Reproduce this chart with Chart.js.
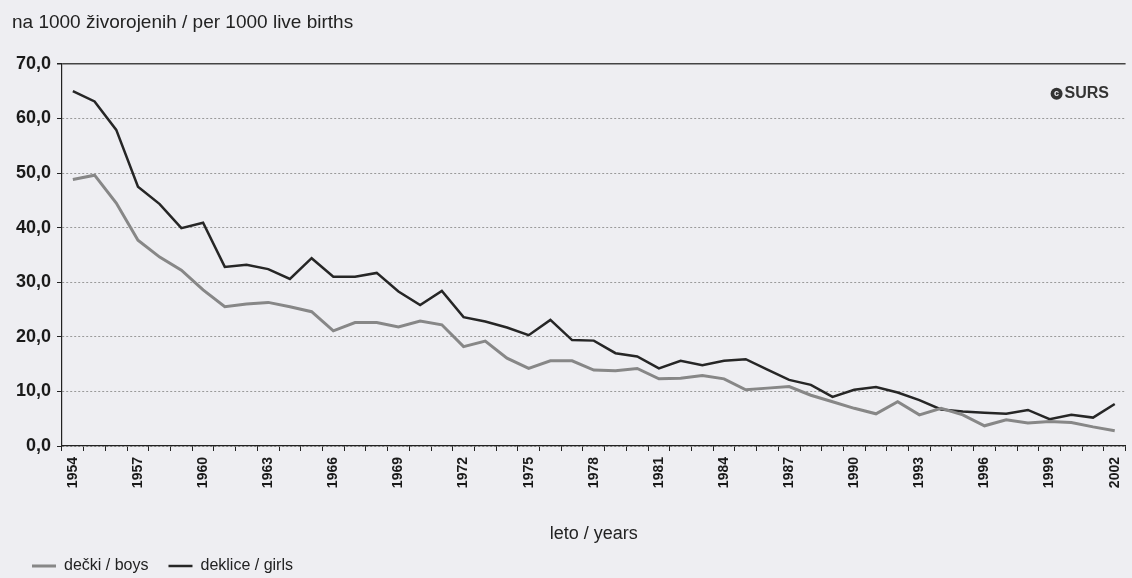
<!DOCTYPE html>
<html>
<head>
<meta charset="utf-8">
<title>Umrljivost dojenčkov</title>
<script src="https://cdn.jsdelivr.net/npm/chart.js@4.4.1/dist/chart.umd.min.js"></script>
<style>
  html, body { margin: 0; padding: 0; background: #eeeef2; }
  #wrap { width: 1132px; height: 578px; }
</style>
</head>
<body>
<div id="wrap"><canvas id="chart" width="1132" height="578"></canvas></div>
<script>
// ── data ──
const years = [
  1954, 1955, 1956, 1957, 1958, 1959, 1960, 1961, 1962, 1963,
  1964, 1965, 1966, 1967, 1968, 1969, 1970, 1971, 1972, 1973,
  1974, 1975, 1976, 1977, 1978, 1979, 1980, 1981, 1982, 1983,
  1984, 1985, 1986, 1987, 1988, 1989, 1990, 1991, 1992, 1993,
  1994, 1995, 1996, 1997, 1998, 1999, 2000, 2001, 2002
];
const labelledYears = [1954, 1957, 1960, 1963, 1966, 1969, 1972, 1975, 1978, 1981, 1984, 1987, 1990, 1993, 1996, 1999, 2002];

const boys = [
  48.8, 49.6, 44.5, 37.7, 34.6, 32.2, 28.6, 25.5, 26.0, 26.3,
  25.5, 24.6, 21.1, 22.6, 22.6, 21.8, 22.9, 22.2, 18.2, 19.2,
  16.1, 14.2, 15.6, 15.6, 13.9, 13.8, 14.2, 12.3, 12.4, 12.9,
  12.3, 10.3, 10.6, 10.9, 9.3, 8.1, 6.9, 5.9, 8.1, 5.7,
  6.9, 5.7, 3.7, 4.8, 4.2, 4.5, 4.3, 3.5, 2.8
];
const girls = [
  65.0, 63.1, 57.9, 47.5, 44.3, 39.9, 40.9, 32.8, 33.2, 32.4,
  30.6, 34.4, 31.0, 31.0, 31.7, 28.3, 25.8, 28.4, 23.6, 22.8,
  21.7, 20.3, 23.1, 19.4, 19.3, 17.0, 16.4, 14.2, 15.6, 14.8,
  15.6, 15.9, 14.0, 12.1, 11.2, 9.0, 10.3, 10.8, 9.8, 8.4,
  6.7, 6.3, 6.1, 5.9, 6.6, 4.9, 5.7, 5.2, 7.7
];

const yTicks = [0, 10, 20, 30, 40, 50, 60, 70];

const FONT = "'Liberation Sans', Arial, sans-serif";

// paper background
const paper = {
  id: "paper",
  beforeDraw(chart) {
    const { ctx, width, height } = chart;
    ctx.save();
    ctx.fillStyle = "#eeeef2";
    ctx.fillRect(0, 0, width, height);
    ctx.restore();
  }
};

// "© SURS" mark in the upper right corner
const surs = {
  id: "surs",
  afterDraw(chart) {
    const { ctx, chartArea } = chart;
    const cx = chartArea.right - 69;
    const cy = chartArea.top + 30;
    ctx.save();
    ctx.fillStyle = "#333";
    ctx.beginPath();
    ctx.arc(cx, cy, 6, 0, Math.PI * 2);
    ctx.fill();
    ctx.fillStyle = "#eeeef2";
    ctx.font = "bold 9px " + FONT;
    ctx.textAlign = "center";
    ctx.textBaseline = "middle";
    ctx.fillText("c", cx, cy);
    ctx.fillStyle = "#333";
    ctx.font = "bold 16px " + FONT;
    ctx.textAlign = "left";
    ctx.fillText("SURS", cx + 8, cy);
    ctx.restore();
  }
};

new Chart(document.getElementById("chart"), {
  type: "line",
  data: {
    labels: years,
    datasets: [
      {
        label: "dečki / boys",
        data: boys,
        borderColor: "#878787",
        borderWidth: 3,
        pointRadius: 0,
        tension: 0
      },
      {
        label: "deklice / girls",
        data: girls,
        borderColor: "#262626",
        borderWidth: 2.5,
        pointRadius: 0,
        tension: 0
      }
    ]
  },
  options: {
    responsive: false,
    animation: false,
    layout: { padding: { left: 12, right: 6, top: 0, bottom: 0 } },
    plugins: {
      title: {
        display: true,
        text: "na 1000 živorojenih / per 1000 live births",
        align: "start",
        color: "#222",
        font: { family: FONT, size: 19, weight: "normal" },
        padding: { top: 11, bottom: 30 }
      },
      legend: {
        position: "bottom",
        align: "start",
        maxHeight: 40,
        labels: {
          usePointStyle: true,
          pointStyle: "line",
          pointStyleWidth: 24,
          padding: 20,
          color: "#222",
          font: { family: FONT, size: 16 }
        }
      },
      tooltip: { enabled: false }
    },
    scales: {
      x: {
        type: "category",
        offset: true,
        afterFit: s => { s.height = 92; },
        grid: {
          display: true,
          offset: true,
          drawOnChartArea: false,
          tickLength: 5,
          tickColor: "#222"
        },
        border: { color: "#222", width: 1.2 },
        ticks: {
          autoSkip: false,
          minRotation: 90,
          maxRotation: 90,
          padding: 6,
          color: "#1a1a1a",
          font: { family: FONT, size: 14, weight: "bold", lineHeight: 0.8 },
          callback(value) {
            const y = this.getLabelForValue(value);
            return labelledYears.includes(Number(y)) ? String(y) : "";
          }
        },
        title: {
          display: true,
          text: "leto / years",
          color: "#222",
          font: { family: FONT, size: 18 },
          padding: { top: 0, bottom: -7 }
        }
      },
      y: {
        min: 0,
        max: 70,
        afterFit: s => { s.width = 50; },
        afterBuildTicks: s => { s.ticks = yTicks.map(v => ({ value: v })); },
        grid: {
          color: c => c.tick && c.tick.value === 70 ? "#444" : "#9a9a9a",
          lineWidth: c => c.tick && c.tick.value === 70 ? 1.5 : 1,
          tickLength: 5,
          tickColor: "#222"
        },
        border: {
          color: "#222",
          width: 1.2,
          dash: c => c.tick && c.tick.value === 70 ? [] : [2, 2]
        },
        ticks: {
          padding: 6,
          color: "#1a1a1a",
          font: { family: FONT, size: 18, weight: "bold" },
          callback: v => v.toFixed(1).replace(".", ",")
        }
      }
    }
  },
  plugins: [paper, surs]
});
</script>
</body>
</html>
